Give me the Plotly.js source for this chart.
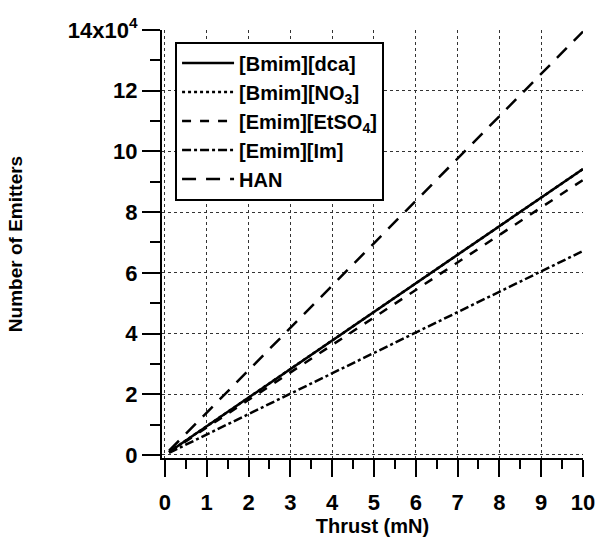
<!DOCTYPE html>
<html><head><meta charset="utf-8">
<script src="https://cdn.plot.ly/plotly-3.0.1.min.js"></script>
<style>body{margin:0;padding:0;background:#fff}#chart{width:598px;height:542px}</style>
</head><body><div id="chart"></div>
<script>
const seriesNames = ['[Bmim][dca]', '[Bmim][NO<sub>3</sub>]', '[Emim][EtSO<sub>4</sub>]', '[Emim][Im]', 'HAN'];
const thrust = [0.1, 10];
const bmimDca = [1000, 94200];
const bmimNO3 = [1000, 94200];
const emimEtSO4 = [900, 90600];
const emimIm = [700, 67200];
const han = [1400, 139500];
const dashes = ['solid', 'dot', 'dash', 'dashdot', '14px,10px'];
const yTickVals = [0, 20000, 40000, 60000, 80000, 100000, 120000, 140000];
const yTickText = ['0', '2', '4', '6', '8', '10', '12', '14x10<sup>4</sup>'];
const xTickVals = [0,1,2,3,4,5,6,7,8,9,10];

const allY = [bmimDca, bmimNO3, emimEtSO4, emimIm, han];
const order = [1, 0, 2, 3, 4];
const traces = allY.map((y, i) => ({
  x: thrust, y: y, name: seriesNames[i], mode: 'lines', type: 'scatter',
  legendrank: i + 1,
  line: {color: '#000', width: 2.5, dash: dashes[i]}
}));
const drawn = order.map(i => traces[i]);

const F = 'Liberation Sans, Arial, sans-serif';
const layout = {
  width: 598, height: 542,
  margin: {l: 162, r: 15, t: 30, b: 84},
  paper_bgcolor: '#fff', plot_bgcolor: '#fff',
  font: {family: F, color: '#000'},
  showlegend: true,
  legend: {x: 0.031, y: 0.973, xanchor: 'left', yanchor: 'top',
    bordercolor: '#000', borderwidth: 2, bgcolor: '#fff',
    font: {size: 20, family: F, weight: 'bold'},
    itemwidth: 52,
    tracegroupgap: 0},
  xaxis: {
    range: [-0.07, 10], tickvals: xTickVals, ticks: 'outside', ticklen: 17, tickwidth: 2,
    tickcolor: '#000', showline: true, linecolor: '#000', linewidth: 2,
    showgrid: true, gridcolor: '#333', griddash: 'dot', gridwidth: 1, zeroline: false,
    tickfont: {size: 22, family: F, weight: 'bold'},
    ticklabelstandoff: 7,
    minor: {dtick: 0.5, ticklen: 9, tickwidth: 2, tickcolor: '#000', showgrid: false},
    title: {text: '<b>Thrust (mN)</b>', font: {size: 20}, standoff: 0}
  },
  yaxis: {
    range: [-1000, 140000], tickvals: yTickVals, ticktext: yTickText, ticks: 'outside',
    ticklen: 18, tickwidth: 2, tickcolor: '#000', showline: true, linecolor: '#000', linewidth: 2,
    showgrid: true, gridcolor: '#333', griddash: 'dot', gridwidth: 1, zeroline: false,
    tickfont: {size: 22, family: F, weight: 'bold'},
    minor: {dtick: 10000, tick0: 0, ticklen: 10, tickwidth: 2, tickcolor: '#000', showgrid: false},
    title: {text: '<b>Number of Emitters</b>', font: {size: 19}, standoff: 40}
  }
};
Plotly.newPlot('chart', drawn, layout, {displayModeBar: false, staticPlot: true});
</script></body></html>
